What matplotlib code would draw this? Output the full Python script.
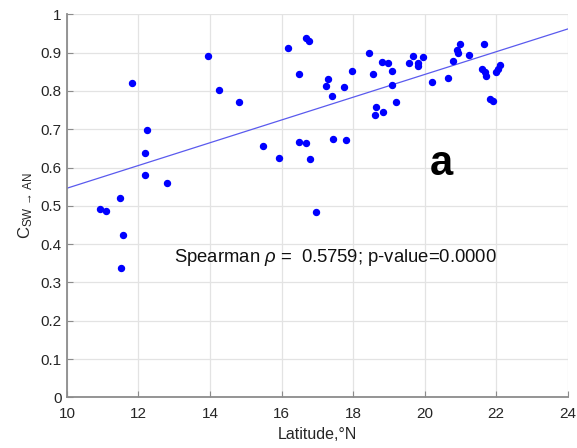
import numpy as np
import matplotlib
matplotlib.use('Agg')
import matplotlib.pyplot as plt

plt.rcParams['font.family'] = ['Liberation Sans', 'DejaVu Sans']
plt.rcParams['mathtext.fontset'] = 'custom'
plt.rcParams['mathtext.rm'] = 'Liberation Sans'
plt.rcParams['mathtext.it'] = 'Liberation Sans:italic'

# station latitude (°N) and coherence values
lat = [11.82, 12.23, 12.17, 12.18, 12.80, 11.47, 10.93, 11.08, 11.56, 11.51,
       13.93, 14.24, 14.82, 16.49, 15.49, 15.93, 16.49, 16.69, 16.18, 16.68,
       16.77, 17.29, 17.24, 17.41, 17.75, 17.97, 18.44, 16.79, 17.44, 17.80,
       16.95, 18.60, 18.83, 18.55, 18.81, 18.97, 19.08, 19.09, 19.20, 18.63,
       19.55, 19.68, 19.81, 19.82, 19.94, 20.20, 20.65, 20.79, 20.89, 20.93,
       20.98, 21.23, 21.65, 21.61, 21.68, 21.72, 21.98, 22.05, 22.11, 21.84,
       21.91]
coh = [0.822, 0.698, 0.638, 0.580, 0.560, 0.521, 0.491, 0.487, 0.424, 0.337,
       0.890, 0.802, 0.772, 0.844, 0.655, 0.624, 0.667, 0.663, 0.911, 0.939,
       0.931, 0.832, 0.814, 0.787, 0.810, 0.852, 0.898, 0.622, 0.675, 0.672,
       0.484, 0.737, 0.746, 0.845, 0.875, 0.872, 0.851, 0.816, 0.772, 0.759,
       0.872, 0.890, 0.874, 0.865, 0.888, 0.823, 0.835, 0.878, 0.908, 0.898,
       0.923, 0.894, 0.923, 0.857, 0.849, 0.838, 0.849, 0.857, 0.867, 0.780,
       0.775]

fit = [0.0297, 0.249]   # slope, intercept of the trend line
xticks = [10, 12, 14, 16, 18, 20, 22, 24]
yticks = [0, 0.1, 0.2, 0.3, 0.4, 0.5, 0.6, 0.7, 0.8, 0.9, 1]
stat_text = r'Spearman $\rho$ =  0.5759; p-value=0.0000'

fig = plt.figure(figsize=(5.77, 4.48), dpi=100)
ax = fig.add_axes([0.116, 0.113, 0.868, 0.855])

xx = np.array([10, 24])
ax.plot(xx, np.polyval(fit, xx), color='#5a5aee', lw=0.9, zorder=2)
ax.plot(lat, coh, 'o', color='#0000ff', markersize=4.3, zorder=3)

ax.set_xlim(10, 24)
ax.set_ylim(0, 1)
ax.set_xticks(xticks)
ax.set_yticks(yticks)
ax.set_yticklabels(['0', '0.1', '0.2', '0.3', '0.4', '0.5', '0.6', '0.7', '0.8', '0.9', '1'])
ax.grid(True, color='#e3e3e3', lw=0.9)
ax.set_axisbelow(True)
for s in ['top', 'right']:
    ax.spines[s].set_visible(False)
for s in ['left', 'bottom']:
    ax.spines[s].set_color('#8c8c8c')
    ax.spines[s].set_linewidth(1.3)
ax.tick_params(direction='in', length=4, color='#8c8c8c', labelsize=11,
               labelcolor='#262626', pad=4)
ax.tick_params(axis='x', pad=7)

ax.set_xlabel('Latitude,°N', fontsize=11.5, color='#262626', labelpad=4)
ax.set_ylabel(r'C$_{\mathrm{SW}\,\rightarrow\,\mathrm{AN}}$', fontsize=12,
              color='#262626', labelpad=4)

ax.text(13.0, 0.364, stat_text, fontsize=13.3, color='#111111', va='center')
ax.text(20.15, 0.61, 'a', fontsize=30, fontweight='bold', color='black', va='center')

fig.savefig('out.png', dpi=100)
